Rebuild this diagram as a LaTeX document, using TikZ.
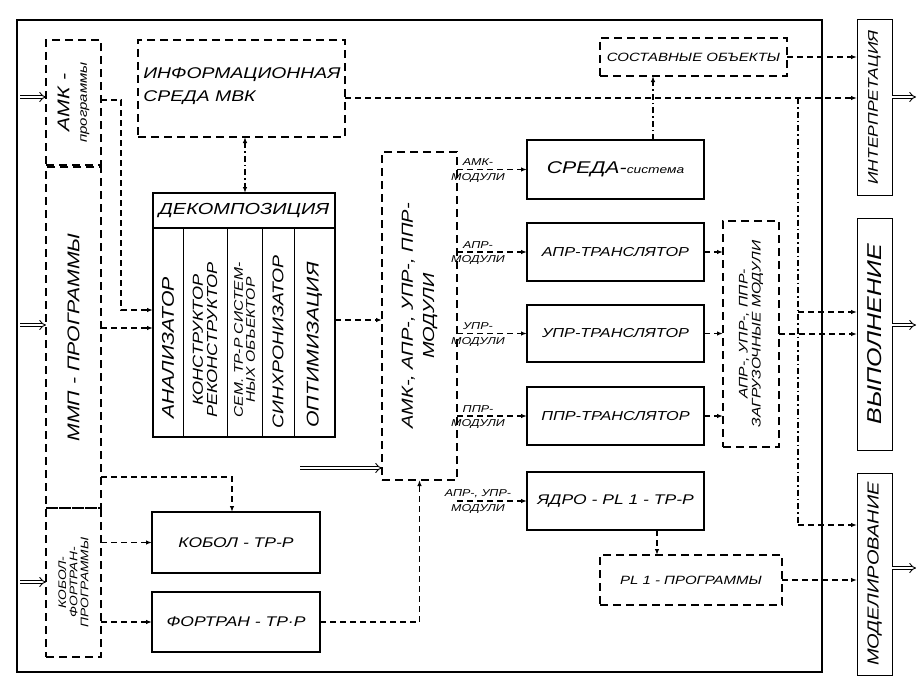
\documentclass[tikz,border=0pt]{standalone}
\usepackage{fontspec}
\setmainfont{Liberation Sans}[FakeStretch=1.25]
\usetikzlibrary{arrows.meta}
\newcommand\fsz[1]{\fontsize{#1}{\dimexpr #1pt*12/10\relax}\selectfont\itshape}
\begin{document}
\begin{tikzpicture}[x=1pt,y=-1pt,
  sbox/.style={draw, line width=2.2pt, inner sep=0pt, outer sep=0pt},
  dbox/.style={draw, line width=1.8pt, dash pattern=on 8pt off 5pt, inner sep=0pt, outer sep=0pt},
  tbox/.style={draw, line width=1pt, inner sep=0pt, outer sep=0pt},
  dl/.style={line width=1.4pt, dash pattern=on 6pt off 4pt},
  ddl/.style={line width=1.2pt, dash pattern=on 6pt off 3pt on 1.5pt off 3pt},
  arr/.style={-{Latex[length=6pt,width=4.5pt]}},
  dbl/.style={double, double distance=2.5pt, line width=0.9pt, -{Implies}},
  lbl/.style={font=\fsz{10}, inner sep=3pt}]
\useasboundingbox (0,0) rectangle (917,677);
% outer frame
\draw[line width=1.2pt] (17,20) rectangle (822,672);

% left column
\node[dbox, minimum width=55, minimum height=125] (amk) at (73.5,102.5) {};
\node[rotate=90, align=center, font=\fsz{17}] (amkT) at (amk.center) {АМК -\\[-3pt]{\fsz{12}программы}};
\node[dbox, minimum width=55, minimum height=341] (mmp) at (73.5,337.5) {};
\node[rotate=90, font=\fsz{17}] (mmpT) at (mmp.center) {ММП - ПРОГРАММЫ};
\node[dbox, minimum width=55, minimum height=149] (kobf) at (73.5,582.5) {};
\node[rotate=90, align=center, font=\fsz{11}] (kobfT) at (kobf.center) {КОБОЛ-\\[-2pt]ФОРТРАН-\\[-2pt]ПРОГРАММЫ};

% information environment
\node[dbox, minimum width=207, minimum height=97] (info) at (241.5,88.5) {};
\node[align=left, font=\fsz{15.5}] (infoT) at (242,86) {ИНФОРМАЦИОННАЯ\\[4pt]СРЕДА МВК};

% decomposition
\node[sbox, minimum width=182, minimum height=244] (dec) at (244,315) {};
\node[font=\fsz{16}] (decT) at (244,211) {ДЕКОМПОЗИЦИЯ};
\draw[line width=1.2pt] (dec.west |- 0,228) -- (dec.east |- 0,228);
\foreach \x in {183,227,262,294} \draw[line width=1pt] (\x,228) -- (\x,0 |- dec.south);
\node[rotate=90, font=\fsz{17}] (c1) at (168,348) {АНАЛИЗАТОР};
\node[rotate=90, align=center, font=\fsz{14.5}] (c2) at (205,340) {КОНСТРУКТОР\\[-3pt]РЕКОНСТРУКТОР};
\node[rotate=90, align=center, font=\fsz{12.5}] (c3) at (244.5,340) {СЕМ. ТР-Р СИСТЕМ-\\[-3pt]НЫХ ОБЪЕКТОР};
\node[rotate=90, font=\fsz{15.5}] (c4) at (278,342) {СИНХРОНИЗАТОР};
\node[rotate=90, font=\fsz{17}] (c5) at (314.5,345) {ОПТИМИЗАЦИЯ};

% translators (bottom left)
\node[sbox, minimum width=168, minimum height=61] (kobol) at (236,542.5) {};
\node[font=\fsz{14}] (kobolT) at (kobol.center) {КОБОЛ - ТР-Р};
\node[sbox, minimum width=168, minimum height=60] (fortran) at (236,622) {};
\node[font=\fsz{14}] (fortranT) at (fortran.center) {ФОРТРАН - ТР·Р};

% modules
\node[dbox, minimum width=75, minimum height=328] (mod) at (419.5,316) {};
\node[rotate=90, align=center, font=\fsz{16}] (modT) at (mod.center) {АМК-, АПР-, УПР-, ППР-\\[2pt]МОДУЛИ};

% translator column
\node[sbox, minimum width=177, minimum height=59] (sreda) at (615.5,169.5) {};
\node[font=\fsz{17}] (sredaT) at (sreda.center) {СРЕДА-{\fsz{11}система}};
\node[sbox, minimum width=177, minimum height=58] (apr) at (615.5,252) {};
\node[font=\fsz{13}] (aprT) at (apr.center) {АПР-ТРАНСЛЯТОР};
\node[sbox, minimum width=177, minimum height=57] (upr) at (615.5,333.5) {};
\node[font=\fsz{13}] (uprT) at (upr.center) {УПР-ТРАНСЛЯТОР};
\node[sbox, minimum width=177, minimum height=58] (ppr) at (615.5,416) {};
\node[font=\fsz{13}] (pprT) at (ppr.center) {ППР-ТРАНСЛЯТОР};
\node[sbox, minimum width=177, minimum height=58] (yadro) at (615.5,501) {};
\node[font=\fsz{14}] (yadroT) at (yadro.center) {ЯДРО - PL 1 - ТР-Р};

% composite objects, load modules, PL1 programs
\node[dbox, minimum width=187, minimum height=38] (sost) at (693.5,57) {};
\node[font=\fsz{12}] (sostT) at (sost.center) {СОСТАВНЫЕ ОБЪЕКТЫ};
\node[dbox, minimum width=56, minimum height=226] (zagr) at (751,334) {};
\node[rotate=90, align=center, font=\fsz{12.5}] (zagrT) at (zagr.center) {АПР-, УПР-, ППР-\\[-2pt]ЗАГРУЗОЧНЫЕ МОДУЛИ};
\node[dbox, minimum width=182, minimum height=50] (pl1) at (691,580) {};
\node[font=\fsz{12}] (pl1T) at (pl1.center) {PL 1 - ПРОГРАММЫ};

% right column
\node[tbox, minimum width=35, minimum height=175] (interp) at (874.5,107.5) {};
\node[rotate=90, font=\fsz{14}] (interpT) at (interp.center) {ИНТЕРПРЕТАЦИЯ};
\node[tbox, minimum width=35, minimum height=232] (vyp) at (874.5,334) {};
\node[rotate=90, font=\fsz{20}] (vypT) at (vyp.center) {ВЫПОЛНЕНИЕ};
\node[tbox, minimum width=35, minimum height=202] (model) at (874.5,574) {};
\node[rotate=90, font=\fsz{16}] (modelT) at (model.center) {МОДЕЛИРОВАНИЕ};

% inputs
\coordinate (inA) at (20,97);
\draw[dbl] (inA) -- (inA -| amk.west);
\coordinate (inM) at (20,325);
\draw[dbl] (inM) -- (inM -| mmp.west);
\coordinate (inK) at (20,582);
\draw[dbl] (inK) -- (inK -| kobf.west);
% outputs
\coordinate (outI) at (916,97);
\draw[dbl] (outI -| interp.east) -- (outI);
\coordinate (outV) at (916,325);
\draw[dbl] (outV -| vyp.east) -- (outV);
\coordinate (outM) at (916,568);
\draw[dbl] (outM -| model.east) -- (outM);

% left connectors
\draw[dl,arr] (amk.east |- 0,100) -- (121,100) -- (121,310) -- (dec.west |- 0,310);
\draw[dl,arr] (mmp.east |- 0,328) -- (dec.west |- 0,328);
\draw[dl,arr] (mmp.east |- 0,477) -- (232,477) -- (232,0 |- kobol.north);
\draw[dl,arr] (kobf.east |- kobol.west) -- (kobol.west);
\draw[dl,arr] (kobf.east |- fortran.west) -- (fortran.west);
\draw[dl,arr] (fortran.east) -- (mod.south |- fortran.east) -- (mod.south);
\draw[ddl,{Latex[length=6pt,width=4.5pt]}-{Latex[length=6pt,width=4.5pt]}] (245,0 |- info.south) -- (245,0 |- dec.north);
\draw[dl,arr] (dec.east |- 0,320) -- (mod.west |- 0,320);
\coordinate (dfree) at (300,468);
\draw[dbl] (dfree) -- (dfree -| mod.west);

% modules to translators
\draw[dl,arr] (mod.east |- sreda.west) -- node[lbl,above,pos=0.3] (l1a) {АМК-} node[lbl,below,pos=0.3] (l1b) {МОДУЛИ} (sreda.west);
\draw[dl,arr] (mod.east |- apr.west) -- node[lbl,above,pos=0.3] (l2a) {АПР-} node[lbl,below,pos=0.3] (l2b) {МОДУЛИ} (apr.west);
\draw[dl,arr] (mod.east |- upr.west) -- node[lbl,above,pos=0.3] (l3a) {УПР-} node[lbl,below,pos=0.3] (l3b) {МОДУЛИ} (upr.west);
\draw[dl,arr] (mod.east |- ppr.west) -- node[lbl,above,pos=0.3] (l4a) {ППР-} node[lbl,below,pos=0.3] (l4b) {МОДУЛИ} (ppr.west);
\draw[dl,arr] (mod.east |- yadro.west) -- node[lbl,above,pos=0.3] (l5a) {АПР-, УПР-} node[lbl,below,pos=0.3] (l5b) {МОДУЛИ} (yadro.west);

% right connectors
\draw[ddl,arr] (653,0 |- sreda.north) -- (653,0 |- sost.south);
\draw[dl,arr] (info.east |- 0,98) -- (interp.west |- 0,98);
\draw[dl,arr] (sost.east) -- (sost.east -| interp.west);
\coordinate (b1) at (798,98);
\coordinate (b2) at (798,312);
\coordinate (b3) at (798,525);
\draw[ddl] (b1) -- (b3);
\draw[dl,arr] (b2) -- (b2 -| vyp.west);
\draw[dl,arr] (b3) -- (b3 -| model.west);
\foreach \n in {apr,upr,ppr} \draw[dl,arr] (\n.east) -- (\n.east -| zagr.west);
\draw[dl,arr] (zagr.east) -- (zagr.east -| vyp.west);
\draw[dl,arr] (657,0 |- yadro.south) -- (657,0 |- pl1.north);
\draw[dl,arr] (pl1.east) -- (pl1.east -| model.west);
\end{tikzpicture}
\end{document}
